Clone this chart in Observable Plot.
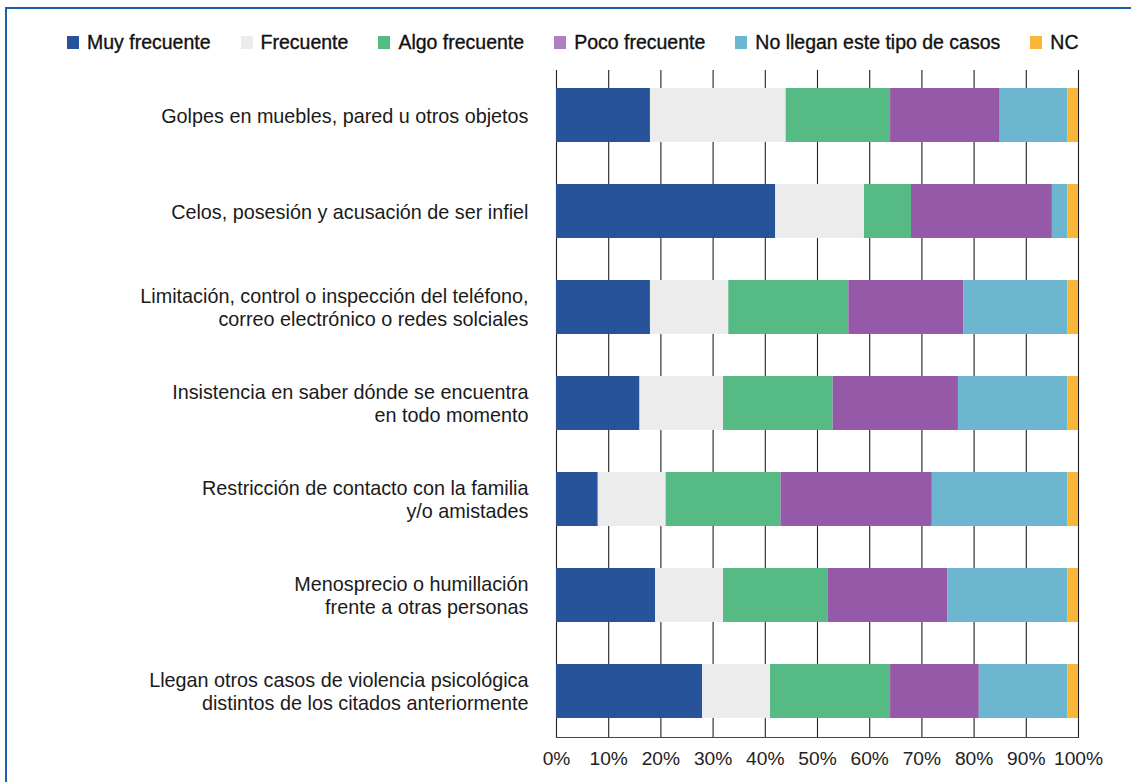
<!DOCTYPE html>
<html>
<head>
<meta charset="utf-8">
<script src="https://cdn.jsdelivr.net/npm/d3@7"></script>
<script src="https://cdn.jsdelivr.net/npm/@observablehq/plot@0.6"></script>
<style>
  html, body { margin: 0; padding: 0; background: #fff; }
  body { width: 1131px; height: 782px; position: relative; overflow: hidden; font-family: "Liberation Sans", Arial, sans-serif; }
  #frame { position: absolute; left: 5px; top: 7px; right: -10px; bottom: -10px; border-top: 2px solid #1f5db0; border-left: 2px solid #1f5db0; pointer-events: none; }
  #legend { height: 60px; box-sizing: border-box; padding-top: 24px; padding-left: 67px; display: flex; align-items: center; }
  .item { display: flex; align-items: center; margin-right: 30px; font-size: 19.5px; line-height: 20px; color: #111; -webkit-text-stroke: 0.35px #111; white-space: nowrap; }
  .sw { width: 12px; height: 13px; margin-right: 8px; }
  #chart svg { display: block; }
</style>
</head>
<body>
<div id="legend"></div>
<div id="chart"></div>
<div id="frame"></div>
<script>
const categories = [
  "Golpes en muebles, pared u otros objetos",
  "Celos, posesión y acusación de ser infiel",
  "Limitación, control o inspección del teléfono,\ncorreo electrónico o redes solciales",
  "Insistencia en saber dónde se encuentra\nen todo momento",
  "Restricción de contacto con la familia\ny/o amistades",
  "Menosprecio o humillación\nfrente a otras personas",
  "Llegan otros casos de violencia psicológica\ndistintos de los citados anteriormente"
];
const series = ["Muy frecuente", "Frecuente", "Algo frecuente", "Poco frecuente", "No llegan este tipo de casos", "NC"];
const colors = ["#27539b", "#ececec", "#56ba84", "#9659a8", "#6cb7cf", "#f9b638"];
const legendColors = ["#27539b", "#ececec", "#56ba84", "#b07fbf", "#6cb7cf", "#f9b638"];

const muyFrecuente  = [18, 42, 18, 16,  8, 19, 28];
const frecuente     = [26, 17, 15, 16, 13, 13, 13];
const algoFrecuente = [20,  9, 23, 21, 22, 20, 23];
const pocoFrecuente = [21, 27, 22, 24, 29, 23, 17];
const noLlegan      = [13,  3, 20, 21, 26, 23, 17];
const nc            = [ 2,  2,  2,  2,  2,  2,  2];

const ticks = [0, 10, 20, 30, 40, 50, 60, 70, 80, 90, 100];
const tickLabels = ["0%", "10%", "20%", "30%", "40%", "50%", "60%", "70%", "80%", "90%", "100%"];

const seriesValues = [muyFrecuente, frecuente, algoFrecuente, pocoFrecuente, noLlegan, nc];
const table = [];
categories.forEach((c, i) => {
  series.forEach((s, j) => table.push({category: c, series: s, value: seriesValues[j][i]}));
});

// legend
const legend = document.getElementById("legend");
series.forEach((s, j) => {
  const it = document.createElement("div");
  it.className = "item";
  const sw = document.createElement("div");
  sw.className = "sw";
  sw.style.background = legendColors[j];
  it.appendChild(sw);
  const t = document.createElement("span");
  t.textContent = s;
  it.appendChild(t);
  legend.appendChild(it);
});

const chart = Plot.plot({
  width: 1131,
  height: 722,
  marginLeft: 556,
  marginRight: 53,
  marginTop: 10,
  marginBottom: 45,
  style: {fontFamily: "'Liberation Sans', Arial, sans-serif", background: "transparent"},
  x: {domain: [0, 100], label: null},
  y: {domain: categories, paddingInner: 0.435, paddingOuter: 0.19, align: 0.49, label: null},
  color: {domain: series, range: colors},
  marks: [
    Plot.ruleX(ticks, {stroke: "#222", strokeWidth: 1.1}),
    Plot.barX(table, Plot.stackX({x: "value", y: "category", fill: "series"})),
    Plot.frame({anchor: "bottom", stroke: "#444", strokeWidth: 1.2}),
    Plot.axisX({ticks: ticks, tickFormat: d => tickLabels[ticks.indexOf(d)], tickSize: 0, tickPadding: 14, fontSize: 19.2, fill: "#222", label: null}),
    Plot.axisY({tickSize: 0, tickPadding: 28, fontSize: 19.8, lineHeight: 1.13, fill: "#1a1a1a", label: null})
  ]
});
document.getElementById("chart").appendChild(chart);
</script>
</body>
</html>
